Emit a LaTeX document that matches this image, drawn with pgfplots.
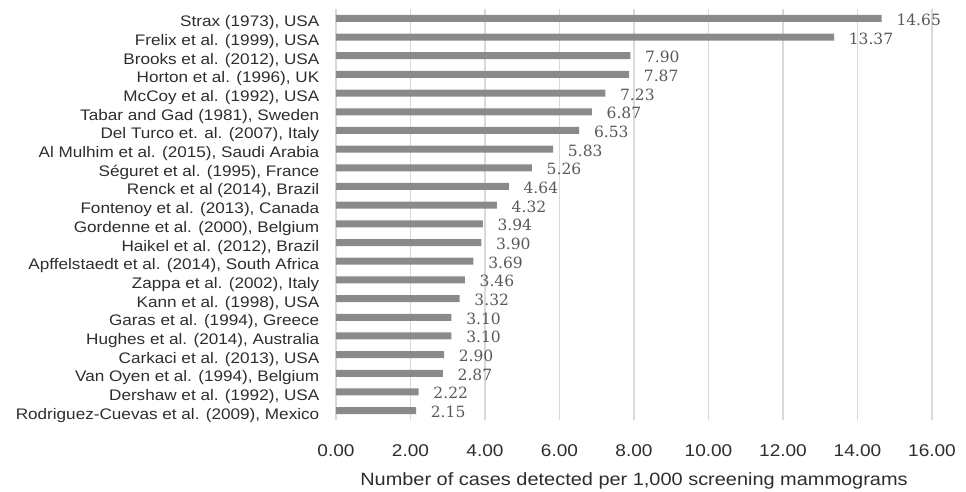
\documentclass[border=0pt]{standalone}
\usepackage{pgfplots}
\pgfplotsset{compat=1.18}
\usepackage{fontspec}
\setmainfont{Liberation Sans}[FakeStretch=1.12]
\newfontfamily\valfont{DejaVu Serif}
\definecolor{barcol}{RGB}{138,138,140}
\definecolor{gridcol}{RGB}{217,217,217}
\definecolor{txtcol}{RGB}{45,45,45}
\definecolor{valcol}{RGB}{89,89,89}
\begin{document}
\begin{tikzpicture}
	\begin{axis}[
		at={(0,0)}, anchor=south west,
		scale only axis,
		width=596bp, height=411bp,
		xbar, bar width=7bp,
		xmin=0, xmax=16,
		ymin=-0.5, ymax=21.5,
		y dir=reverse,
		xtick={0,2,...,16},
		ytick={0,...,21},
		yticklabels={
			{Strax (1973), USA},
			{Frelix et al. (1999), USA},
			{Brooks et al. (2012), USA},
			{Horton et al. (1996), UK},
			{McCoy et al. (1992), USA},
			{Tabar and Gad (1981), Sweden\hspace{4bp}},
			{Del Turco et. al. (2007), Italy\hspace{4bp}},
			{Al Mulhim et al. (2015), Saudi Arabia},
			{Séguret et al. (1995), France},
			{Renck et al (2014), Brazil},
			{Fontenoy et al. (2013), Canada},
			{Gordenne et al. (2000), Belgium},
			{Haikel et al. (2012), Brazil\hspace{4bp}},
			{Apffelstaedt et al. (2014), South Africa\hspace{3bp}},
			{Zappa et al. (2002), Italy\hspace{4bp}},
			{Kann et al. (1998), USA},
			{Garas et al. (1994), Greece},
			{Hughes et al. (2014), Australia\hspace{4bp}},
			{Carkaci et al. (2013), USA},
			{Van Oyen et al. (1994), Belgium\hspace{4bp}},
			{Dershaw et al. (1992), USA},
			{Rodriguez-Cuevas et al. (2009), Mexico}},
		axis line style={draw=none},
		major tick length=0pt,
		xmajorgrids,
		grid style={gridcol, line width=1.3bp},
		/pgf/number format/.cd, fixed, fixed zerofill, precision=2, assume math mode=true, 1000 sep={},
		/pgfplots/.cd,
		xticklabel style={font=\fontsize{17bp}{20bp}\selectfont, anchor=base, yshift=-36bp, text=txtcol, inner sep=0pt},
		yticklabel style={font=\fontsize{15.3bp}{18bp}\selectfont, anchor=base east, yshift=-8.5bp, xshift=-16.5bp, text=txtcol, inner sep=0pt},
		xlabel={Number of cases detected per 1,000 screening mammograms},
		xlabel style={font=\fontsize{17.8bp}{20bp}\selectfont, at={(rel axis cs:0.5,0)}, anchor=base, yshift=-65bp, text=txtcol, inner sep=0pt},
		nodes near coords,
		nodes near coords align={horizontal},
		every node near coord/.append style={font=\valfont\fontsize{15.5bp}{18bp}\selectfont, text=valcol, anchor=base west, inner sep=0pt, xshift=14.6bp, yshift=-7bp},
		]
		\addplot[fill=barcol, draw=none] coordinates {
			(14.65,0) (13.37,1) (7.90,2) (7.87,3) (7.23,4) (6.87,5)
			(6.53,6) (5.83,7) (5.26,8) (4.64,9) (4.32,10) (3.94,11)
			(3.90,12) (3.69,13) (3.46,14) (3.32,15) (3.10,16) (3.10,17)
			(2.90,18) (2.87,19) (2.22,20) (2.15,21)
		};
	\end{axis}
	\pgfresetboundingbox
	\path[use as bounding box] (-336bp,-72bp) rectangle (630bp,420bp);
\end{tikzpicture}
\end{document}
